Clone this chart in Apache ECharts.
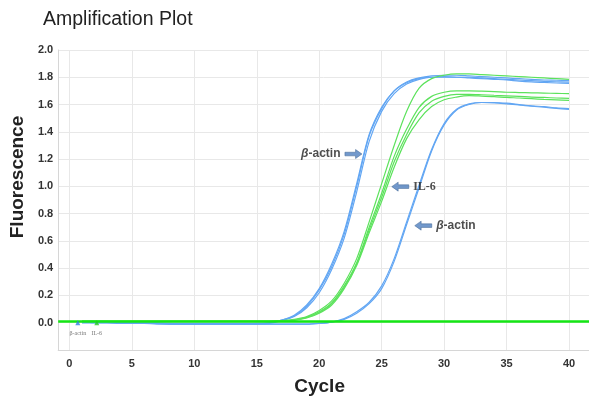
<!DOCTYPE html>
<html>
<head>
<meta charset="utf-8">
<style>
html,body{margin:0;padding:0;background:#fff;}
#chart{width:589px;height:401px;}
</style>
<script src="https://cdn.jsdelivr.net/npm/echarts@6/dist/echarts.min.js"></script>
</head>
<body>
<div id="chart"></div>
<script>
// ---- data ----
const cycles = [1,2,3,4,5,6,7,8,9,10,11,12,13,14,15,16,17,18,19,20,21,22,23,24,25,26,27,28,29,30,31,32,33,34,35,36,37,38,39,40];

const actinEarly1 = [0.01,0.01,0.01,0.0,0.0,0.0,0.0,-0.005,-0.005,-0.005,-0.005,-0.005,-0.005,-0.005,-0.005,0.0,0.02,0.05,0.12,0.24,0.41,0.65,1.0,1.37,1.57,1.70,1.765,1.795,1.81,1.815,1.815,1.81,1.805,1.80,1.795,1.79,1.785,1.78,1.778,1.775];
const actinEarly2 = [0.01,0.0,0.0,0.0,0.0,-0.005,-0.005,-0.005,-0.01,-0.01,-0.01,-0.01,-0.01,-0.01,-0.005,0.0,0.02,0.055,0.13,0.25,0.43,0.67,1.02,1.38,1.58,1.70,1.76,1.79,1.80,1.805,1.80,1.80,1.795,1.79,1.785,1.78,1.775,1.77,1.767,1.765];
const actinEarly3 = [0.0,0.0,0.0,0.0,-0.005,-0.005,-0.005,-0.01,-0.01,-0.01,-0.01,-0.01,-0.01,-0.01,-0.01,-0.005,0.015,0.045,0.11,0.22,0.39,0.62,0.96,1.33,1.55,1.68,1.75,1.785,1.80,1.80,1.80,1.795,1.79,1.785,1.78,1.772,1.766,1.762,1.758,1.755];
const actinLate1 = [0.0,0.0,0.0,0.0,-0.005,-0.005,-0.005,-0.01,-0.01,-0.01,-0.01,-0.01,-0.01,-0.01,-0.01,-0.01,-0.01,-0.01,-0.01,-0.005,0.005,0.025,0.07,0.14,0.25,0.45,0.72,0.99,1.26,1.45,1.56,1.60,1.615,1.615,1.61,1.60,1.59,1.585,1.575,1.57];
const actinLate2 = [0.0,0.0,0.0,-0.005,-0.005,-0.005,-0.01,-0.01,-0.01,-0.01,-0.01,-0.01,-0.01,-0.01,-0.01,-0.01,-0.01,-0.01,-0.01,-0.005,0.005,0.03,0.08,0.15,0.27,0.47,0.74,1.01,1.27,1.46,1.565,1.605,1.615,1.612,1.605,1.597,1.588,1.58,1.572,1.565];

const il6_1 = [0.01,0.01,0.01,0.01,0.01,0.01,0.01,0.01,0.01,0.01,0.01,0.01,0.01,0.01,0.01,0.01,0.015,0.025,0.045,0.09,0.16,0.29,0.47,0.74,1.02,1.30,1.55,1.72,1.79,1.815,1.825,1.825,1.82,1.815,1.81,1.805,1.80,1.795,1.79,1.785];
const il6_2 = [0.01,0.01,0.01,0.01,0.01,0.01,0.01,0.01,0.01,0.01,0.01,0.01,0.01,0.01,0.01,0.01,0.015,0.02,0.04,0.08,0.145,0.27,0.44,0.70,0.95,1.22,1.42,1.58,1.66,1.69,1.70,1.70,1.698,1.695,1.69,1.688,1.686,1.684,1.682,1.68];
const il6_3 = [0.01,0.01,0.01,0.01,0.01,0.01,0.01,0.01,0.01,0.01,0.01,0.01,0.01,0.01,0.01,0.01,0.012,0.02,0.038,0.075,0.14,0.26,0.43,0.68,0.92,1.18,1.38,1.54,1.625,1.66,1.675,1.675,1.672,1.668,1.664,1.66,1.655,1.652,1.648,1.645];
const il6_4 = [0.01,0.01,0.01,0.01,0.01,0.01,0.01,0.01,0.01,0.01,0.01,0.01,0.01,0.01,0.01,0.01,0.012,0.018,0.035,0.07,0.13,0.25,0.42,0.66,0.89,1.14,1.35,1.49,1.585,1.635,1.655,1.665,1.662,1.658,1.652,1.648,1.643,1.638,1.634,1.63];

const threshold = 0.015;

const yTicks = [-0.2,0.0,0.2,0.4,0.6,0.8,1.0,1.2,1.4,1.6,1.8,2.0];

// annotations (arrow centre in data coords)
const annotText = ['β-actin','IL-6','β-actin'];
const annotCycle = [22.74, 26.49, 28.33];
const annotValue = [1.237, 0.998, 0.712];
const annotDir = ['right','left','left'];

// small legend markers near origin
const markerText = ['β-actin','IL-6'];
const markerCycle = [0.67, 2.19];
const markerValue = [0.0, 0.0];

// ---- chart ----
const BLUE = '#62a6f3';
const GREEN = '#5ce25c';
const pairs = arr => cycles.map((c,i)=>[c,arr[i]]);
const curve = (name, arr, color) => ({
  name, type:'line', data:pairs(arr), showSymbol:false, smooth:0.3,
  lineStyle:{color, width:1.2}, itemStyle:{color}, z:3, silent:true
});

const arrowPath = 'path://M0,3 L10,3 L10,0 L16,5 L10,10 L10,7 L0,7 Z';
const labelFmt = t => t.indexOf('β')===0 ? '{g|β}{s|' + t.slice(1) + '}' : '{r|' + t + '}';

const chart = echarts.init(document.getElementById('chart'), null, {renderer:'canvas'});
chart.setOption({
  animation:false,
  backgroundColor:'#ffffff',
  title:{
    text:'Amplification Plot', left:38, top:5,
    textStyle:{fontFamily:'Liberation Sans', fontSize:19.5, fontWeight:'normal', color:'#222'}
  },
  grid:{left:57, top:50, right:0, bottom:49, containLabel:false},
  xAxis:{
    type:'value', min:-0.9, max:41.6, minInterval:5, maxInterval:5,
    name:'Cycle', nameLocation:'middle', nameGap:27,
    nameTextStyle:{fontFamily:'Liberation Sans', fontSize:19, fontWeight:'bold', color:'#222', padding:[0,8,0,0]},
    axisLine:{show:true, onZero:false, lineStyle:{color:'#d6d6d6', width:1}},
    axisTick:{show:false},
    axisLabel:{showMinLabel:false, showMaxLabel:false, margin:8,
      fontFamily:'Liberation Sans', fontSize:11, fontWeight:'bold', color:'#333'},
    splitLine:{show:true, lineStyle:{color:'#e8e8e8', width:1}}
  },
  yAxis:{
    type:'value', min:yTicks[0], max:yTicks[yTicks.length-1], interval:0.2,
    name:'Fluorescence', nameLocation:'middle', nameGap:30,
    nameTextStyle:{fontFamily:'Liberation Sans', fontSize:19, fontWeight:'bold', color:'#222', padding:[0,0,0,46]},
    axisLine:{show:true, onZero:false, lineStyle:{color:'#d6d6d6', width:1}},
    axisTick:{show:false},
    axisLabel:{margin:5, fontFamily:'Liberation Sans', fontSize:11, fontWeight:'bold', color:'#333',
      formatter: v => v < -0.1 ? '' : v.toFixed(1)},
    splitLine:{show:true, lineStyle:{color:'#e8e8e8', width:1}}
  },
  series:[
    curve('β-actin 1', actinEarly1, BLUE),
    curve('β-actin 2', actinEarly2, BLUE),
    curve('β-actin 3', actinEarly3, BLUE),
    curve('β-actin 4', actinLate1, BLUE),
    curve('β-actin 5', actinLate2, BLUE),
    curve('IL-6 1', il6_1, GREEN),
    curve('IL-6 2', il6_2, GREEN),
    curve('IL-6 3', il6_3, GREEN),
    curve('IL-6 4', il6_4, GREEN),
    {
      name:'threshold', type:'line', data:[], z:5, silent:true,
      markLine:{silent:true, symbol:['none','none'], label:{show:false},
        lineStyle:{color:'#14e614', width:2.5, type:'solid'},
        data:[{yAxis:threshold}]}
    },
    {
      name:'markers', type:'scatter', z:6, silent:true,
      symbol:'triangle', symbolSize:5,
      data: markerCycle.map((c,i)=>({
        value:[c, markerValue[i]],
        itemStyle:{color: i===0 ? '#2f7de0' : '#22c822'},
        label:{show:true, position:'bottom', distance:5, formatter: markerText[i],
          fontFamily:'Liberation Serif', fontSize:6, color:'#555'}
      }))
    },
    {
      name:'annotations', type:'scatter', z:7, silent:true,
      symbol:arrowPath, symbolSize:[17,9],
      itemStyle:{color:'#4f7fbf', borderColor:'#3b628f', borderWidth:0.6},
      data: annotCycle.map((c,i)=>({
        value:[c, annotValue[i]],
        symbolRotate: annotDir[i]==='right' ? 0 : 180,
        label:{show:true, position: annotDir[i]==='right' ? 'left' : 'right', distance:4,
          formatter: labelFmt(annotText[i]),
          rich:{
            g:{fontFamily:'Liberation Sans', fontSize:12, fontWeight:'bold', fontStyle:'italic', color:'#222'},
            s:{fontFamily:'Liberation Sans', fontSize:12, fontWeight:'bold', color:'#222'},
            r:{fontFamily:'Liberation Serif', fontSize:12, fontWeight:'bold', color:'#222'}
          }}
      }))
    }
  ]
});
</script>
</body>
</html>
